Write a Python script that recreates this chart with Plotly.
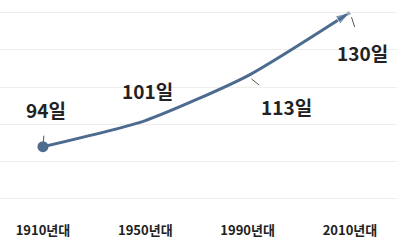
import plotly.graph_objects as go

categories = ["1910년대", "1950년대", "1990년대", "2010년대"]
values = [94, 101, 113, 130]
labels = ["94일", "101일", "113일", "130일"]

line_color = "#4d6b8e"
font_family = "Noto Sans CJK KR"

fig = go.Figure()
fig.add_trace(go.Scatter(
    x=categories, y=values, mode="lines",
    line=dict(color=line_color, width=3, shape="spline", smoothing=0.6),
    hoverinfo="skip", showlegend=False,
))
# start dot
fig.add_trace(go.Scatter(
    x=categories[:1], y=values[:1], mode="markers",
    marker=dict(symbol="circle", size=11, color=line_color),
    hoverinfo="skip", showlegend=False,
))
# end arrow
fig.add_trace(go.Scatter(
    x=categories[-2:], y=values[-2:], mode="markers",
    marker=dict(symbol="arrow", size=[0, 15], angleref="previous",
                color=line_color),
    hoverinfo="skip", showlegend=False,
))

# label offsets (pixels) for each point
offsets = [(3, -37), (2, -30), (39, 31), (13, 40)]
for cat, v, lab, (ax, ay) in zip(categories, values, labels, offsets):
    fig.add_annotation(
        x=cat, y=v, text=f"<b>{lab}</b>", showarrow=True, arrowhead=0,
        arrowwidth=1, arrowcolor="#555", ax=ax, ay=ay,
        standoff=5, startstandoff=11,
        font=dict(size=19, color="#222", family=font_family),
    )

fig.update_layout(
    width=397, height=243,
    margin=dict(l=0, r=0, t=5, b=43),
    paper_bgcolor="white", plot_bgcolor="white",
    xaxis=dict(type="category", range=[-0.42, 3.46], showgrid=False,
               showline=False, zeroline=False, ticks="outside", ticklen=18,
               tickcolor="rgba(0,0,0,0)",
               tickfont=dict(size=13, color="#222", family=font_family)),
    yaxis=dict(range=[79.7, 132], dtick=10, tick0=80, showgrid=True,
               gridcolor="#eeeeee", gridwidth=1, showticklabels=False,
               zeroline=False, showline=False),
)
fig.update_xaxes(tickvals=categories,
                 ticktext=[f"<b>{c}</b>" for c in categories])

fig.write_html("out.html",
               config={"displayModeBar": False},
               post_script="document.body.style.margin='0';")
